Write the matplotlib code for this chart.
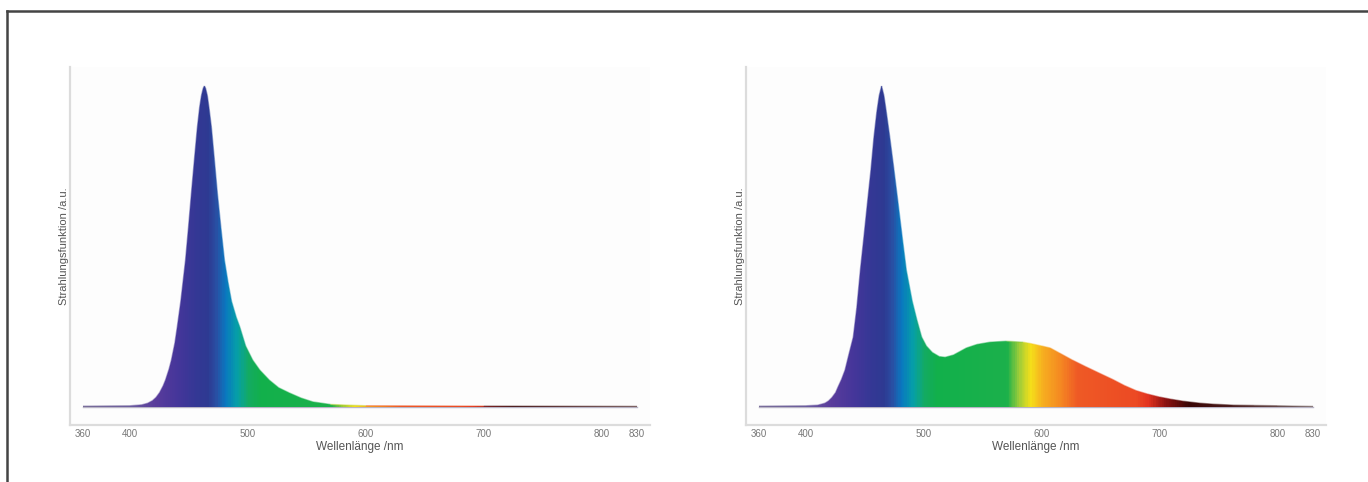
"""
Two LED emission spectra (blue chip alone, blue chip + phosphor),
filled with a spectral colour gradient.
"""
import matplotlib
matplotlib.use("Agg")
import matplotlib.pyplot as plt
import numpy as np
from matplotlib.colors import LinearSegmentedColormap
from matplotlib.lines import Line2D
from matplotlib.patches import Polygon
from matplotlib.collections import LineCollection

plt.rcParams["font.family"] = ["Liberation Sans", "DejaVu Sans"]

# --- data (wavelength in nm, relative radiance) ---
blue_nm = [360, 400, 410, 415, 419, 422, 425, 428, 430, 433, 435, 438, 440, 443,
           447, 449.5, 452, 454.5, 457, 459, 460.5, 462, 463, 464, 465.5, 467,
           469, 471.5, 474, 477, 480, 483, 486, 490, 493, 498, 504, 510, 518,
           526, 535, 545, 555, 570, 600, 700, 830]
blue_val = [0.003, 0.004, 0.007, 0.012, 0.02, 0.03, 0.045, 0.066, 0.084, 0.118,
            0.146, 0.2, 0.25, 0.33, 0.458, 0.56, 0.667, 0.77, 0.87, 0.935, 0.97,
            0.993, 1.0, 0.993, 0.97, 0.93, 0.87, 0.77, 0.667, 0.56, 0.458, 0.39,
            0.33, 0.28, 0.25, 0.19, 0.146, 0.115, 0.084, 0.06, 0.044, 0.028,
            0.016, 0.008, 0.004, 0.003, 0.002]

white_nm = [360, 400, 410, 416, 419, 422, 425, 427, 430, 433, 436, 440, 443, 446,
            449, 452, 455, 457.5, 460, 462, 464, 466, 468, 471, 474.5, 478, 481.5,
            485, 490, 494, 498, 502, 507, 513, 518, 525, 530, 536, 545, 556, 570,
            584, 590, 600, 607, 615, 626, 637, 649, 660, 670, 680, 690, 700, 710,
            720, 734, 745, 762, 780, 800, 830]
white_val = [0.003, 0.004, 0.006, 0.012, 0.019, 0.03, 0.045, 0.062, 0.086, 0.115,
             0.16, 0.218, 0.31, 0.427, 0.53, 0.636, 0.74, 0.84, 0.92, 0.97, 1.0,
             0.97, 0.92, 0.84, 0.74, 0.636, 0.53, 0.427, 0.33, 0.271, 0.218, 0.19,
             0.17, 0.157, 0.155, 0.162, 0.172, 0.184, 0.195, 0.202, 0.205, 0.202,
             0.198, 0.19, 0.184, 0.168, 0.146, 0.126, 0.105, 0.086, 0.067, 0.051,
             0.04, 0.031, 0.024, 0.018, 0.012, 0.009, 0.006, 0.005, 0.004, 0.002]

tick_nm = [360, 400, 500, 600, 700, 800, 830]

# spectral colour ramp
stop_nm = [360, 400, 420, 440, 455, 465, 472, 480, 490, 500, 510, 570, 580, 590,
           600, 615, 630, 680, 690, 705, 725, 760, 830]
stop_hex = ["#7a7098", "#6a5a9f", "#5a3c9c", "#45369a", "#343895", "#2e3a92",
            "#2a4ea3", "#0a78c0", "#06a0a8", "#14ab62", "#12b04c", "#1cb14b",
            "#9ccc3a", "#f5e01a", "#f7b020", "#f58a22", "#ef5a26", "#ec4a24",
            "#e33320", "#8c1212", "#3a0606", "#4a1c1c", "#7a6a6a"]
LO, HI = 360, 830
spec_cmap = LinearSegmentedColormap.from_list(
    "spec", [((n - LO) / (HI - LO), c) for n, c in zip(stop_nm, stop_hex)])

W, H = 1368, 482
fig = plt.figure(figsize=(W / 100, H / 100), dpi=100)


def panel(left_px, nm, val):
    ax = fig.add_axes([left_px / W, (H - 425) / H, 580 / W, 358 / H])
    ax.set_facecolor("#fdfdfd")
    ax.set_xlim(349, 841)
    ax.set_ylim(-0.056, 1.059)

    # gradient clipped to the area under the curve
    grad = np.linspace(0, 1, 600).reshape(1, -1)
    im = ax.imshow(grad, cmap=spec_cmap, aspect="auto",
                   extent=[LO, HI, 0, 1.05], origin="lower", zorder=2)
    verts = list(zip(nm, val)) + [(nm[-1], 0), (nm[0], 0)]
    poly = Polygon(verts, closed=True, facecolor="none", edgecolor="none")
    ax.add_patch(poly)
    im.set_clip_path(poly)

    # thin coloured outline (shows the faint tail)
    x = np.array(nm, dtype=float)
    y = np.array(val, dtype=float)
    pts = np.column_stack([x, y]).reshape(-1, 1, 2)
    segs = np.concatenate([pts[:-1], pts[1:]], axis=1)
    lc = LineCollection(segs, cmap=spec_cmap, linewidths=1.0, alpha=0.45, zorder=3)
    lc.set_array((0.5 * (x[:-1] + x[1:]) - LO) / (HI - LO))
    lc.set_clim(0, 1)
    ax.add_collection(lc)
    ax.plot([LO, HI], [0, 0], color="#8a84a0", lw=1.0, alpha=0.6, zorder=1)

    for s in ("top", "right"):
        ax.spines[s].set_visible(False)
    for s in ("left", "bottom"):
        ax.spines[s].set_color("#dcdcdc")
        ax.spines[s].set_linewidth(1.6)

    ax.set_yticks([])
    ax.set_xticks(tick_nm)
    ax.tick_params(axis="x", length=0, pad=3, labelsize=7, labelcolor="#777777")
    ax.set_xlabel("Wellenlänge /nm", fontsize=8.5, color="#555555", labelpad=1)
    ax.set_ylabel("Strahlungsfunktion /a.u.", fontsize=8, color="#555555", labelpad=1)
    return ax


panel(70, blue_nm, blue_val)
panel(746, white_nm, white_val)

# page frame (top and left edges visible)
fig.add_artist(Line2D([7 / W, 1], [1 - 11 / H, 1 - 11 / H], color="#444444", lw=1.8))
fig.add_artist(Line2D([7 / W, 7 / W], [0, 1 - 11 / H], color="#444444", lw=1.8))

fig.savefig("out.png", dpi=100)
